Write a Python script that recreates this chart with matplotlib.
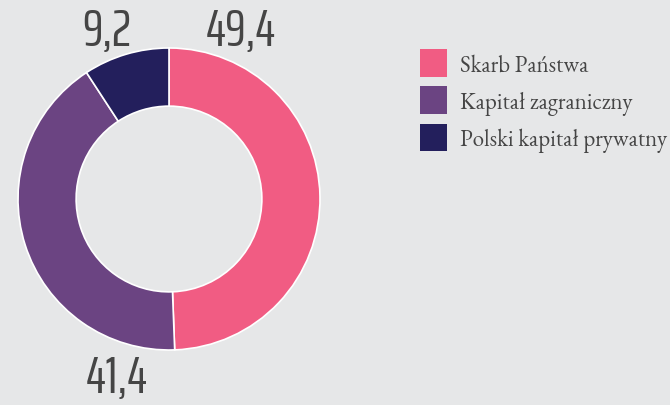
import matplotlib.pyplot as plt

labels = ['Skarb Państwa', 'Kapitał zagraniczny', 'Polski kapitał prywatny']
values = [49.4, 41.4, 9.2]
value_labels = ['49,4', '41,4', '9,2']
colors = ['#f15c83', '#6b4482', '#231f5c']

bg = '#e6e7e8'
W, H = 670, 406

fig = plt.figure(figsize=(W / 100, H / 100), dpi=100, facecolor=bg)
ax = fig.add_axes([0, 0, 1, 1])
ax.set_facecolor(bg)

cx, cy, r = 169, H - 200, 151
wedges, _ = ax.pie(values, colors=colors, startangle=90, counterclock=False,
                   center=(cx, cy), radius=r, frame=True,
                   wedgeprops=dict(width=r * 0.385, edgecolor='white', linewidth=1.2))
ax.set_xlim(0, W)
ax.set_ylim(0, H)
ax.set_aspect('equal')
ax.axis('off')

# value labels placed around the ring
num_font = dict(family=['Saira ExtraCondensed', 'DejaVu Sans'], fontsize=38,
                fontweight=400, color='#454545', ha='center', va='center')
ax.text(241, H - 31, value_labels[0], **num_font)
ax.text(117, H - 379, value_labels[1], **num_font)
ax.text(107, H - 31, value_labels[2], **num_font)

leg = ax.legend(wedges, labels, loc='upper left', bbox_to_anchor=(420 / W, 1 - 50 / H),
                frameon=False, borderpad=0, borderaxespad=0,
                handlelength=1.2, handleheight=1.5, labelspacing=0.38, handletextpad=0.55,
                prop=dict(family=['EB Garamond', 'Liberation Serif'], size=16.5))
for t in leg.get_texts():
    t.set_color('#454545')
for h in leg.legend_handles:
    h.set_edgecolor('none')

fig.savefig('out.png', dpi=100, facecolor=bg)
